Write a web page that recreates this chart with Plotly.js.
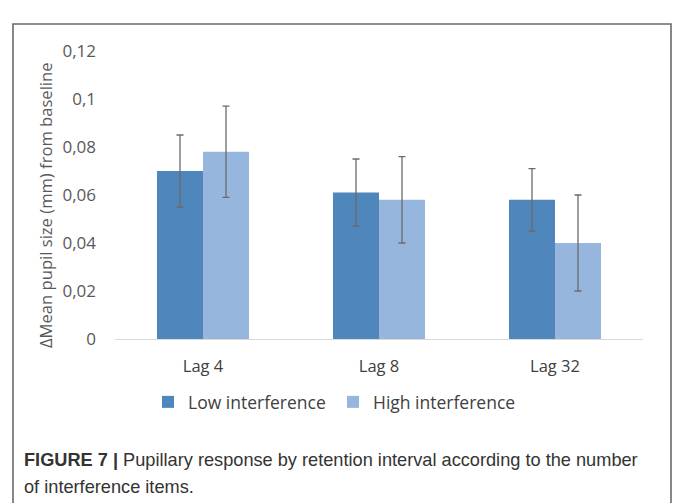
<!DOCTYPE html>
<html>
<head>
<meta charset="utf-8">
<script src="https://cdn.plot.ly/plotly-3.0.1.min.js"></script>
<style>
  html, body { margin: 0; padding: 0; background: #fff; }
  #chart { width: 675px; height: 503px; }
</style>
</head>
<body>
<div id="chart"></div>
<script>
// Data
const categories = ['Lag 4', 'Lag 8', 'Lag 32'];
const lowValues = [0.070, 0.061, 0.058];
const lowErrPlus = [0.015, 0.014, 0.013];
const lowErrMinus = [0.015, 0.014, 0.013];
const highValues = [0.078, 0.058, 0.040];
const highErrPlus = [0.019, 0.018, 0.020];
const highErrMinus = [0.019, 0.018, 0.020];
const seriesNames = ['Low interference', 'High interference'];
const yTickVals = [0, 0.02, 0.04, 0.06, 0.08, 0.1, 0.12];
const yTickText = ['0', '0,02', '0,04', '0,06', '0,08', '0,1', '0,12'];
const yTitle = 'ΔMean pupil size (mm) from baseline';
const captionBold = 'FIGURE 7 |';
const captionLine1 = ' Pupillary response by retention interval according to the number';
const captionLine2 = 'of interference items.';

// Layout geometry (pixels)
const W = 675, H = 503;
const L = 115, R = 643, T = 51, B = 339;
const px = x => (x - L) / (R - L);
const py = y => (B - y) / (B - T);

const font = '"Open Sans", Lato, sans-serif';
const capFont = '"Liberation Sans", Arial, sans-serif';
const errStyle = { color: '#6b6b6b', thickness: 1.3, width: 3.5 };

const traces = [
  {
    type: 'bar', name: seriesNames[0], x: categories, y: lowValues,
    marker: { color: '#4f86bc', line: { width: 0 } },
    error_y: Object.assign({ type: 'data', symmetric: false, array: lowErrPlus, arrayminus: lowErrMinus }, errStyle),
    hoverinfo: 'none'
  },
  {
    type: 'bar', name: seriesNames[1], x: categories, y: highValues,
    marker: { color: '#97b6dd', line: { width: 0 } },
    error_y: Object.assign({ type: 'data', symmetric: false, array: highErrPlus, arrayminus: highErrMinus }, errStyle),
    hoverinfo: 'none'
  }
];

const layout = {
  width: W, height: H,
  margin: { l: L, r: W - R, t: T, b: H - B, pad: 0 },
  paper_bgcolor: '#ffffff', plot_bgcolor: '#ffffff',
  barmode: 'group', bargap: 0.477, bargroupgap: 0,
  font: { family: font, color: '#595959', size: 16 },
  showlegend: true,
  legend: {
    orientation: 'h', x: px(148), xanchor: 'left', y: py(402), yanchor: 'middle',
    entrywidth: 140, entrywidthmode: 'pixels',
    font: { family: font, size: 17.5, color: '#404040' },
    itemclick: false, itemdoubleclick: false, traceorder: 'normal'
  },
  xaxis: {
    type: 'category', showgrid: false, zeroline: false,
    showline: true, linecolor: '#d9d9d9', linewidth: 1,
    ticks: '', tickfont: { family: font, size: 16.5, color: '#404040' },
    ticklabelstandoff: 12, fixedrange: true
  },
  yaxis: {
    range: [0, 0.12], tickvals: yTickVals, ticktext: yTickText,
    showgrid: false, zeroline: false, showline: false,
    ticks: '', tickfont: { family: font, size: 17, color: '#595959' },
    ticklabelstandoff: 18, fixedrange: true
  },
  shapes: [
    {
      type: 'rect', xref: 'paper', yref: 'paper',
      x0: px(13), x1: px(671), y0: py(520), y1: py(24),
      line: { color: '#6a6a6a', width: 1.6 }, fillcolor: 'rgba(0,0,0,0)', layer: 'below'
    }
  ],
  annotations: [
    {
      text: yTitle, textangle: -90, xref: 'paper', yref: 'paper',
      x: px(45), y: py(205), xanchor: 'center', yanchor: 'middle',
      showarrow: false, font: { family: font, size: 16.6, color: '#595959' }
    },
    {
      text: '<b>' + captionBold + '</b>' + captionLine1, xref: 'paper', yref: 'paper',
      x: px(22), y: py(460), xanchor: 'left', yanchor: 'middle', align: 'left',
      showarrow: false, font: { family: capFont, size: 18.2, color: '#333333' }
    },
    {
      text: captionLine2, xref: 'paper', yref: 'paper',
      x: px(22), y: py(487), xanchor: 'left', yanchor: 'middle', align: 'left',
      showarrow: false, font: { family: capFont, size: 18.2, color: '#333333' }
    }
  ]
};

Plotly.newPlot('chart', traces, layout, { staticPlot: true, displayModeBar: false });
</script>
</body>
</html>
